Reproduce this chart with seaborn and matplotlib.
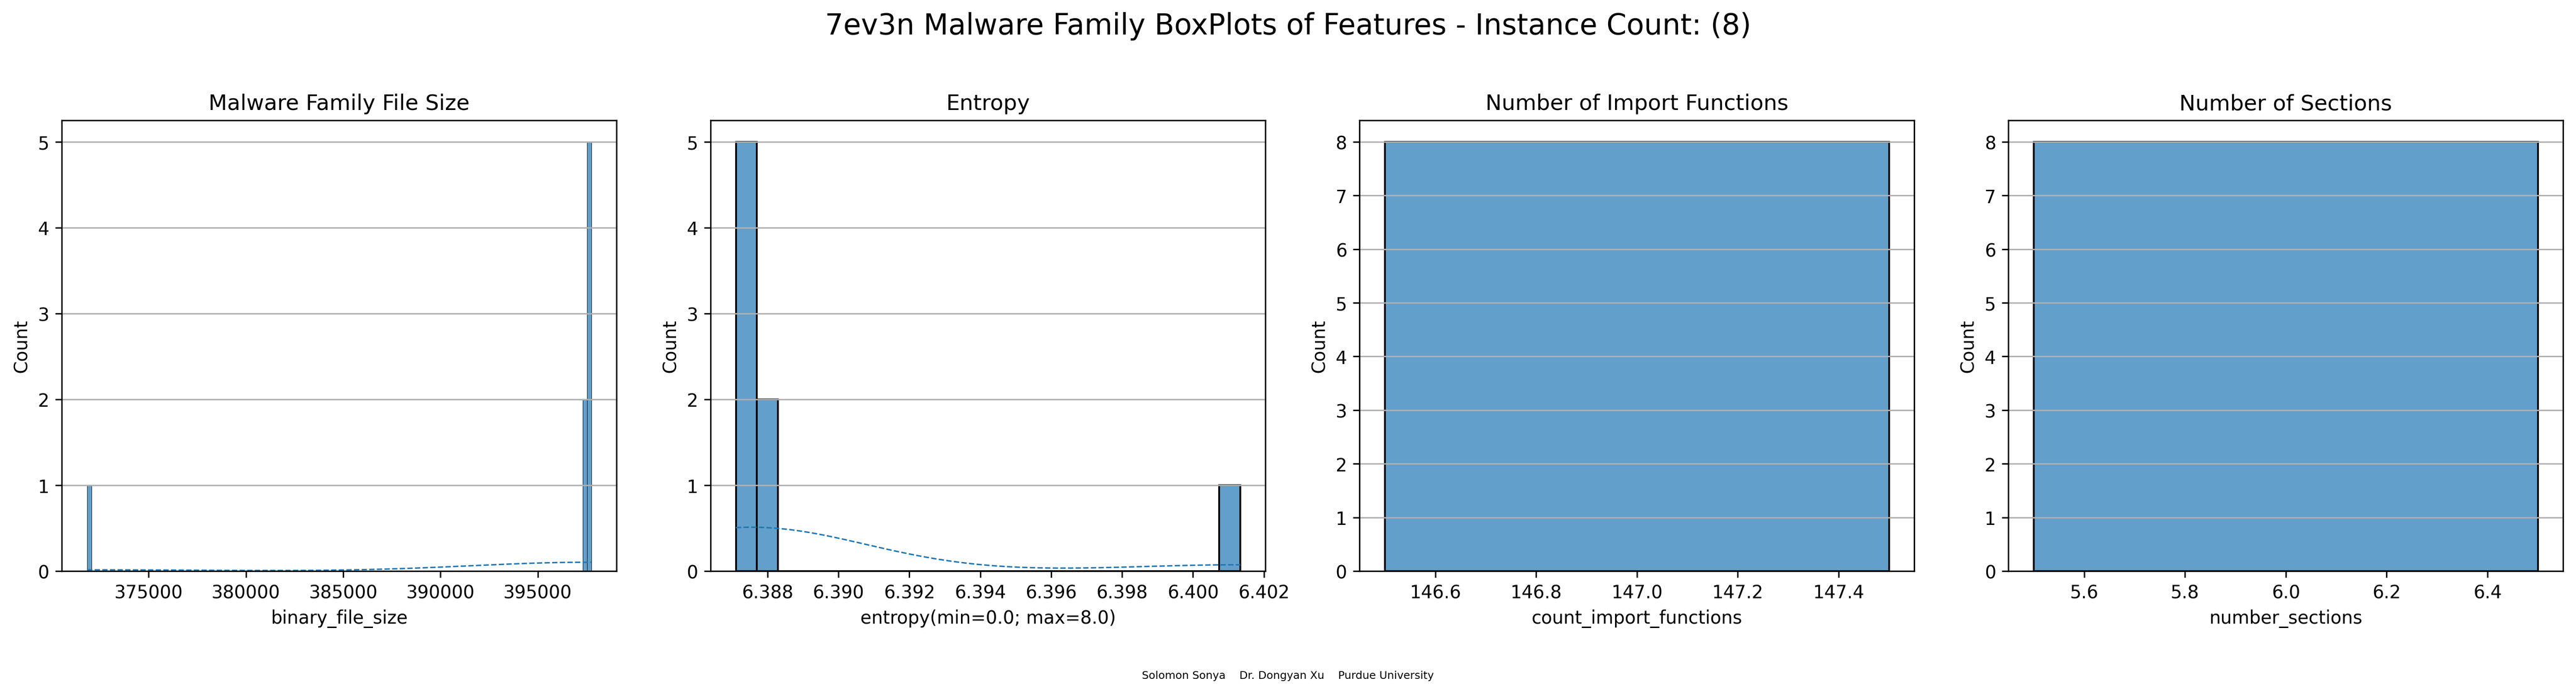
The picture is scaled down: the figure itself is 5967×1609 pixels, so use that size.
import matplotlib
matplotlib.use("Agg")
import matplotlib.pyplot as plt
import seaborn as sns
import pandas as pd
import numpy as np

# 8 samples of the 7ev3n family
binary_file_size = [371833, 397412, 397468, 397590, 397620, 397655, 397700, 397747]
entropy = [6.38711, 6.38725, 6.38738, 6.38750, 6.38762, 6.38785, 6.38810, 6.40133]
count_import_functions = [147, 147, 147, 147, 147, 147, 147, 147]
number_sections = [6, 6, 6, 6, 6, 6, 6, 6]

df = pd.DataFrame({
    "binary_file_size": binary_file_size,
    "entropy(min=0.0; max=8.0)": entropy,
    "count_import_functions": count_import_functions,
    "number_sections": number_sections,
})

titles = ["Malware Family File Size", "Entropy", "Number of Import Functions", "Number of Sections"]
bins = [117, 24, "auto", "auto"]

fig, axes = plt.subplots(1, 4, figsize=(5967 / 300, 1610 / 300), dpi=300)
fig.subplots_adjust(left=0.024, right=0.995, bottom=0.177, top=0.826, wspace=0.17)

for ax, col, title, b in zip(axes, df.columns, titles, bins):
    # kde only makes sense where the values vary
    use_kde = df[col].nunique() > 1
    sns.histplot(data=df, x=col, bins=b, kde=use_kde, alpha=0.7, ax=ax,
                 line_kws={"linestyle": "--", "linewidth": 0.8})
    ax.set_title(title)
    ax.set_xlabel(col)
    ax.set_ylabel("Count")
    ax.grid(axis="y")

fig.suptitle("7ev3n Malware Family BoxPlots of Features - Instance Count: (8)",
             fontsize=16, y=0.962, va="center")
fig.text(0.5, 0.027, "Solomon Sonya    Dr. Dongyan Xu    Purdue University",
         ha="center", va="center", fontsize=6)

plt.savefig("out.png", dpi=300)
